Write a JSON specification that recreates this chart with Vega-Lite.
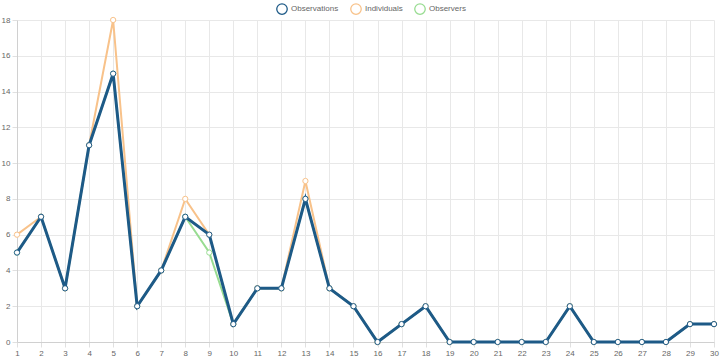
{
  "$schema": "https://vega.github.io/schema/vega-lite/v6.json",
  "autosize": "none",
  "width": 697,
  "height": 322,
  "padding": {"left": 17, "top": 20, "right": 6, "bottom": 18},
  "background": "white",
  "config": {
    "view": {"stroke": null},
    "font": "Liberation Sans",
    "axis": {
      "labelFont": "Liberation Sans",
      "labelFontSize": 8,
      "labelColor": "#666666",
      "gridColor": "#e8e8e8",
      "gridWidth": 1,
      "tickColor": "#e0e0e0",
      "tickSize": 5,
      "domainColor": "#d0d0d0",
      "title": null
    }
  },
  "datasets": {
    "series": [
      {"day": 1, "series": "Observations", "value": 5},
      {"day": 2, "series": "Observations", "value": 7},
      {"day": 3, "series": "Observations", "value": 3},
      {"day": 4, "series": "Observations", "value": 11},
      {"day": 5, "series": "Observations", "value": 15},
      {"day": 6, "series": "Observations", "value": 2},
      {"day": 7, "series": "Observations", "value": 4},
      {"day": 8, "series": "Observations", "value": 7},
      {"day": 9, "series": "Observations", "value": 6},
      {"day": 10, "series": "Observations", "value": 1},
      {"day": 11, "series": "Observations", "value": 3},
      {"day": 12, "series": "Observations", "value": 3},
      {"day": 13, "series": "Observations", "value": 8},
      {"day": 14, "series": "Observations", "value": 3},
      {"day": 15, "series": "Observations", "value": 2},
      {"day": 16, "series": "Observations", "value": 0},
      {"day": 17, "series": "Observations", "value": 1},
      {"day": 18, "series": "Observations", "value": 2},
      {"day": 19, "series": "Observations", "value": 0},
      {"day": 20, "series": "Observations", "value": 0},
      {"day": 21, "series": "Observations", "value": 0},
      {"day": 22, "series": "Observations", "value": 0},
      {"day": 23, "series": "Observations", "value": 0},
      {"day": 24, "series": "Observations", "value": 2},
      {"day": 25, "series": "Observations", "value": 0},
      {"day": 26, "series": "Observations", "value": 0},
      {"day": 27, "series": "Observations", "value": 0},
      {"day": 28, "series": "Observations", "value": 0},
      {"day": 29, "series": "Observations", "value": 1},
      {"day": 30, "series": "Observations", "value": 1},
      {"day": 1, "series": "Individuals", "value": 6},
      {"day": 2, "series": "Individuals", "value": 7},
      {"day": 3, "series": "Individuals", "value": 3},
      {"day": 4, "series": "Individuals", "value": 11},
      {"day": 5, "series": "Individuals", "value": 18},
      {"day": 6, "series": "Individuals", "value": 2},
      {"day": 7, "series": "Individuals", "value": 4},
      {"day": 8, "series": "Individuals", "value": 8},
      {"day": 9, "series": "Individuals", "value": 6},
      {"day": 10, "series": "Individuals", "value": 1},
      {"day": 11, "series": "Individuals", "value": 3},
      {"day": 12, "series": "Individuals", "value": 3},
      {"day": 13, "series": "Individuals", "value": 9},
      {"day": 14, "series": "Individuals", "value": 3},
      {"day": 15, "series": "Individuals", "value": 2},
      {"day": 16, "series": "Individuals", "value": 0},
      {"day": 17, "series": "Individuals", "value": 1},
      {"day": 18, "series": "Individuals", "value": 2},
      {"day": 19, "series": "Individuals", "value": 0},
      {"day": 20, "series": "Individuals", "value": 0},
      {"day": 21, "series": "Individuals", "value": 0},
      {"day": 22, "series": "Individuals", "value": 0},
      {"day": 23, "series": "Individuals", "value": 0},
      {"day": 24, "series": "Individuals", "value": 2},
      {"day": 25, "series": "Individuals", "value": 0},
      {"day": 26, "series": "Individuals", "value": 0},
      {"day": 27, "series": "Individuals", "value": 0},
      {"day": 28, "series": "Individuals", "value": 0},
      {"day": 29, "series": "Individuals", "value": 1},
      {"day": 30, "series": "Individuals", "value": 1},
      {"day": 1, "series": "Observers", "value": 5},
      {"day": 2, "series": "Observers", "value": 7},
      {"day": 3, "series": "Observers", "value": 3},
      {"day": 4, "series": "Observers", "value": 11},
      {"day": 5, "series": "Observers", "value": 15},
      {"day": 6, "series": "Observers", "value": 2},
      {"day": 7, "series": "Observers", "value": 4},
      {"day": 8, "series": "Observers", "value": 7},
      {"day": 9, "series": "Observers", "value": 5},
      {"day": 10, "series": "Observers", "value": 1},
      {"day": 11, "series": "Observers", "value": 3},
      {"day": 12, "series": "Observers", "value": 3},
      {"day": 13, "series": "Observers", "value": 8},
      {"day": 14, "series": "Observers", "value": 3},
      {"day": 15, "series": "Observers", "value": 2},
      {"day": 16, "series": "Observers", "value": 0},
      {"day": 17, "series": "Observers", "value": 1},
      {"day": 18, "series": "Observers", "value": 2},
      {"day": 19, "series": "Observers", "value": 0},
      {"day": 20, "series": "Observers", "value": 0},
      {"day": 21, "series": "Observers", "value": 0},
      {"day": 22, "series": "Observers", "value": 0},
      {"day": 23, "series": "Observers", "value": 0},
      {"day": 24, "series": "Observers", "value": 2},
      {"day": 25, "series": "Observers", "value": 0},
      {"day": 26, "series": "Observers", "value": 0},
      {"day": 27, "series": "Observers", "value": 0},
      {"day": 28, "series": "Observers", "value": 0},
      {"day": 29, "series": "Observers", "value": 1},
      {"day": 30, "series": "Observers", "value": 1}
    ]
  },
  "data": {"name": "series"},
  "encoding": {
    "x": {
      "field": "day",
      "type": "quantitative",
      "scale": {"domain": [1, 30], "nice": false, "zero": false},
      "axis": {
        "values": [1,2,3,4,5,6,7,8,9,10,11,12,13,14,15,16,17,18,19,20,21,22,23,24,25,26,27,28,29,30],
        "labelPadding": 2,
        "labelFlush": false,
        "labelOverlap": false,
        "format": "d"
      }
    },
    "y": {
      "field": "value",
      "type": "quantitative",
      "scale": {"domain": [0, 18], "nice": false},
      "axis": {
        "values": [0,2,4,6,8,10,12,14,16,18],
        "labelPadding": 2,
        "labelFlush": false
      }
    },
    "color": {
      "field": "series",
      "type": "nominal",
      "scale": {
        "domain": ["Observations", "Individuals", "Observers"],
        "range": ["#1d5a87", "#f8c28a", "#98dc91"]
      },
      "legend": {
        "orient": "none",
        "direction": "horizontal",
        "legendX": 259,
        "legendY": -17,
        "title": null,
        "symbolType": "circle",
        "symbolFillColor": "white",
        "symbolStrokeWidth": 1.3,
        "symbolSize": 110,
        "labelFontSize": 8,
        "labelColor": "#666666",
        "labelOffset": 3,
        "columnPadding": 9
      }
    }
  },
  "layer": [
    {
      "transform": [{"filter": "datum.series === 'Observers'"}],
      "mark": {"type": "line", "strokeWidth": 2}
    },
    {
      "transform": [{"filter": "datum.series === 'Observers'"}],
      "mark": {"type": "point", "filled": false, "fill": "white", "size": 28, "strokeWidth": 1, "opacity": 1}
    },
    {
      "transform": [{"filter": "datum.series === 'Individuals'"}],
      "mark": {"type": "line", "strokeWidth": 2}
    },
    {
      "transform": [{"filter": "datum.series === 'Individuals'"}],
      "mark": {"type": "point", "filled": false, "fill": "white", "size": 28, "strokeWidth": 1, "opacity": 1}
    },
    {
      "transform": [{"filter": "datum.series === 'Observations'"}],
      "mark": {"type": "line", "strokeWidth": 3}
    },
    {
      "transform": [{"filter": "datum.series === 'Observations'"}],
      "mark": {"type": "point", "filled": false, "fill": "white", "size": 28, "strokeWidth": 1, "opacity": 1}
    }
  ]
}
